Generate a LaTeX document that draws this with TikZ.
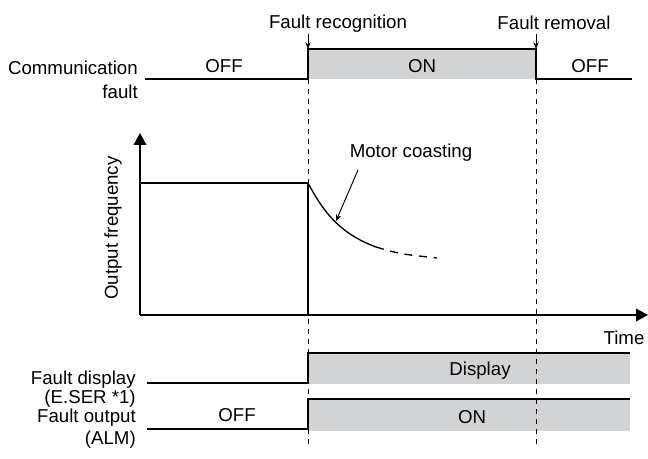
\documentclass[tikz,border=0pt]{standalone}
\usepackage{fontspec}
\setmainfont{Liberation Sans}
\usetikzlibrary{arrows.meta}
\definecolor{boxgray}{RGB}{209,211,212}
\begin{document}
\begin{tikzpicture}[x=0.75pt,y=-0.75pt,
  sig/.style={line width=1pt},
  guide/.style={line width=0.7pt, dash pattern=on 4pt off 3.5pt},
  lbl/.style={font=\fontsize{14}{16}\selectfont, inner sep=0pt},
  axis/.style={line width=1pt, -{Triangle[length=9pt,width=9.5pt]}},
  small/.style={line width=0.7pt, -{Stealth[length=5pt,width=4pt]}},
  gbox/.style={fill=boxgray, draw=none}]
\useasboundingbox (0,0) rectangle (648,459);
% communication fault
\fill[gbox] (308,49) rectangle (536,79);
\draw[sig] (145,79) -- (308,79) -- (308,49) -- (536,49) -- (536,79) -- (632,79);
% fault display / output boxes
\fill[gbox] (308,353) rectangle (630,384);
\draw[sig] (147,383) -- (308,383) -- (308,353) -- (630,353);
\fill[gbox] (308,399) rectangle (630,431);
\draw[sig] (147,429) -- (308,429) -- (308,399) -- (630,399);
% guides
\coordinate (rec) at (308,49);
\coordinate (rem) at (536,49);
\draw[guide] (308,79) -- (308,448);
\draw[guide] (536,79) -- (536,448);
% labels top
\node[lbl] (frec) at (338,24) {Fault recognition};
\node[lbl] (frem) at (554,23) {Fault removal};
\coordinate (recTop) at (308,34);
\coordinate (remTop) at (536,34);
\draw[small] (recTop) -- (rec);
\draw[small] (remTop) -- (rem);
\node[lbl] (off1) at (224,66) {OFF};
\node[lbl] (on1) at (422,66) {ON};
\node[lbl] (off2) at (590,66) {OFF};
\node[lbl, anchor=east] (comm) at (138,68) {Communication};
\node[lbl, anchor=east] (commf) at (138,92) {fault};
% axes
\coordinate (origin) at (140,315);
\coordinate (ytip) at (140,133);
\coordinate (xtip) at (648,315);
\draw[axis] (origin) -- (ytip);
\draw[axis] (origin) -- (xtip);
\node[lbl, rotate=90] (ylab) at (113,228) {Output frequency};
\node[lbl] (tlab) at (624,338) {Time};
% frequency curve
\draw[sig] (140,183) -- (308,183) -- (308,315);
\draw[sig] (308,183) .. controls (320,205) and (335,232) .. (376,247);
\draw[line width=1pt, dash pattern=on 6pt off 5pt] (376,247) .. controls (400,254) .. (437,258);
\node[lbl] (coast) at (411,153) {Motor coasting};
\coordinate (coastTip) at (336,221);
\draw[small] (358,170) -- (coastTip);
% lower texts
\node[lbl] (disp) at (480,371) {Display};
\node[lbl] (on2) at (472,417) {ON};
\node[lbl] (off3) at (237,415) {OFF};
\node[lbl, anchor=east] (fd) at (136,380) {Fault display};
\node[lbl, anchor=east] (eser) at (136,399) {(E.SER *1)};
\node[lbl, anchor=east] (fo) at (136,418) {Fault output};
\node[lbl, anchor=east] (alm) at (136,440) {(ALM)};
\end{tikzpicture}
\end{document}
